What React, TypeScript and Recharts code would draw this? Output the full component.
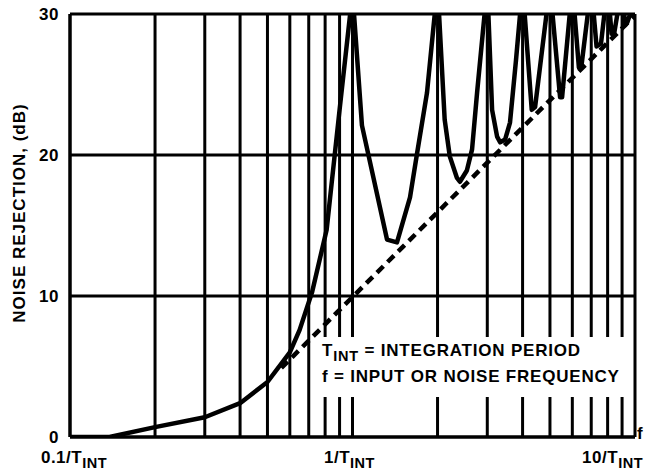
import React from 'react';
import { LineChart, Line, XAxis, YAxis, CartesianGrid } from 'recharts';

// frequency in units of 1/T_INT, rejection in dB
const solidFreq = [
  0.1, 0.138, 0.2, 0.3, 0.4, 0.5, 0.6, 0.65, 0.72, 0.81, 0.9, 1.0,
  1.08, 1.325, 1.437, 1.598, 1.692, 1.835, 2.0,
  2.12, 2.21, 2.34, 2.4, 2.54, 2.65, 2.76, 3.0,
  3.12, 3.25, 3.33, 3.47, 3.61, 3.79, 4.0,
  4.31, 4.43, 5.0,
  5.43, 5.52, 6.0,
  6.33, 6.48, 7.0,
  7.31, 7.58, 8.0,
  8.26, 8.45, 9.0,
  9.22, 9.39, 10.0,
];
const solidDb = [
  0, 0, 0.7, 1.4, 2.4, 3.9, 6.0, 7.6, 10.3, 14.7, 23.2, 31.5,
  22.1, 14.0, 13.8, 17.0, 20.1, 24.4, 32,
  22.5, 19.9, 18.4, 18.1, 18.9, 20.4, 24.4, 32,
  23.2, 21.3, 20.9, 21.1, 22.3, 26.7, 32,
  23.2, 23.4, 32,
  24.1, 24.1, 32,
  26.2, 26.5, 32,
  27.7, 27.9, 32,
  28.6, 28.7, 32,
  29.2, 29.4, 31,
];

const dashFreq = [0.56, 10];
const dashDb = [4.9, 29.9];

const yTicks = [0, 10, 20, 30];
const xGrid = [
  0.1, 0.2, 0.3, 0.4, 0.5, 0.6, 0.7, 0.8, 0.9,
  1, 2, 3, 4, 5, 6, 7, 8, 9, 10,
];
const xLabels: Record<number, string> = { 0.1: '0.1/T', 1: '1/T', 10: '10/T' };

const solidData = solidFreq.map((x, i) => ({ x, db: solidDb[i] }));
const dashData = dashFreq.map((x, i) => ({ x, db: dashDb[i] }));

const FONT = '"Liberation Sans", Arial, Helvetica, sans-serif';

function XTick(props: any) {
  const { x, y, payload } = props;
  const label = xLabels[payload.value];
  if (!label) return null;
  let anchor: 'middle' | 'end' = 'middle';
  let dx = 0;
  if (payload.value === 0.1) dx = 4;
  if (payload.value === 1) dx = -3;
  if (payload.value === 10) {
    anchor = 'end';
    dx = 8;
  }
  return (
    <text
      x={x + dx}
      y={y + 26}
      textAnchor={anchor}
      fontFamily={FONT}
      fontWeight="bold"
      fontSize={17}
      fill="#000"
      style={{ letterSpacing: 0.5 }}
    >
      <tspan>{label}</tspan>
      <tspan fontSize={14.5} dy={5}>INT</tspan>
    </text>
  );
}

export default function App() {
  return (
    <div style={{ position: 'absolute', left: 0, top: 0, width: 648, height: 474, background: '#fff', fontFamily: FONT }}>
      <LineChart width={648} height={474} margin={{ top: 14, right: 13, left: 10, bottom: 7 }}>
        <CartesianGrid stroke="#000" strokeWidth={3} horizontalValues={yTicks} verticalValues={xGrid} />
        <XAxis
          dataKey="x"
          type="number"
          scale="log"
          domain={[0.1, 10]}
          ticks={xGrid}
          allowDataOverflow
          height={30}
          tickSize={0}
          tickMargin={0}
          tickLine={false}
          axisLine={{ stroke: '#000', strokeWidth: 3 }}
          tick={<XTick />}
          interval={0}
        />
        <YAxis
          type="number"
          domain={[0, 30]}
          ticks={yTicks}
          allowDataOverflow
          width={60}
          tickSize={0}
          tickMargin={11}
          tickLine={false}
          axisLine={{ stroke: '#000', strokeWidth: 3 }}
          tick={{ fontSize: 17, fontWeight: 'bold', fill: '#000', fontFamily: FONT, style: { letterSpacing: 0.5 } } as any}
        />
        <Line
          data={solidData}
          dataKey="db"
          type="linear"
          stroke="#000"
          strokeWidth={4.5}
          strokeLinejoin="round"
          dot={false}
          isAnimationActive={false}
        />
        <Line
          data={dashData}
          dataKey="db"
          type="linear"
          stroke="#000"
          strokeWidth={4.5}
          strokeDasharray="9 6"
          dot={false}
          isAnimationActive={false}
        />
      </LineChart>

      <div
        style={{
          position: 'absolute',
          left: 20,
          top: 213,
          transform: 'translate(-50%, -50%) rotate(-90deg)',
          whiteSpace: 'nowrap',
          fontWeight: 'bold',
          fontSize: 17,
          letterSpacing: 1,
          lineHeight: '20px',
        }}
      >
        NOISE REJECTION, (dB)
      </div>

      <div style={{ position: 'absolute', left: 637, top: 424, fontWeight: 'bold', fontSize: 17, lineHeight: '20px' }}>
        f
      </div>

      <div
        style={{
          position: 'absolute',
          left: 317,
          top: 337,
          width: 315,
          height: 60,
          background: '#fff',
          paddingTop: 1,
          paddingLeft: 5,
          boxSizing: 'border-box',
          fontWeight: 'bold',
          fontSize: 17,
          letterSpacing: 0.8,
          lineHeight: '26px',
          whiteSpace: 'nowrap',
        }}
      >
        <div>
          T<span style={{ fontSize: 14.5, position: 'relative', top: 5 }}>INT</span> = INTEGRATION PERIOD
        </div>
        <div>f = INPUT OR NOISE FREQUENCY</div>
      </div>
    </div>
  );
}
